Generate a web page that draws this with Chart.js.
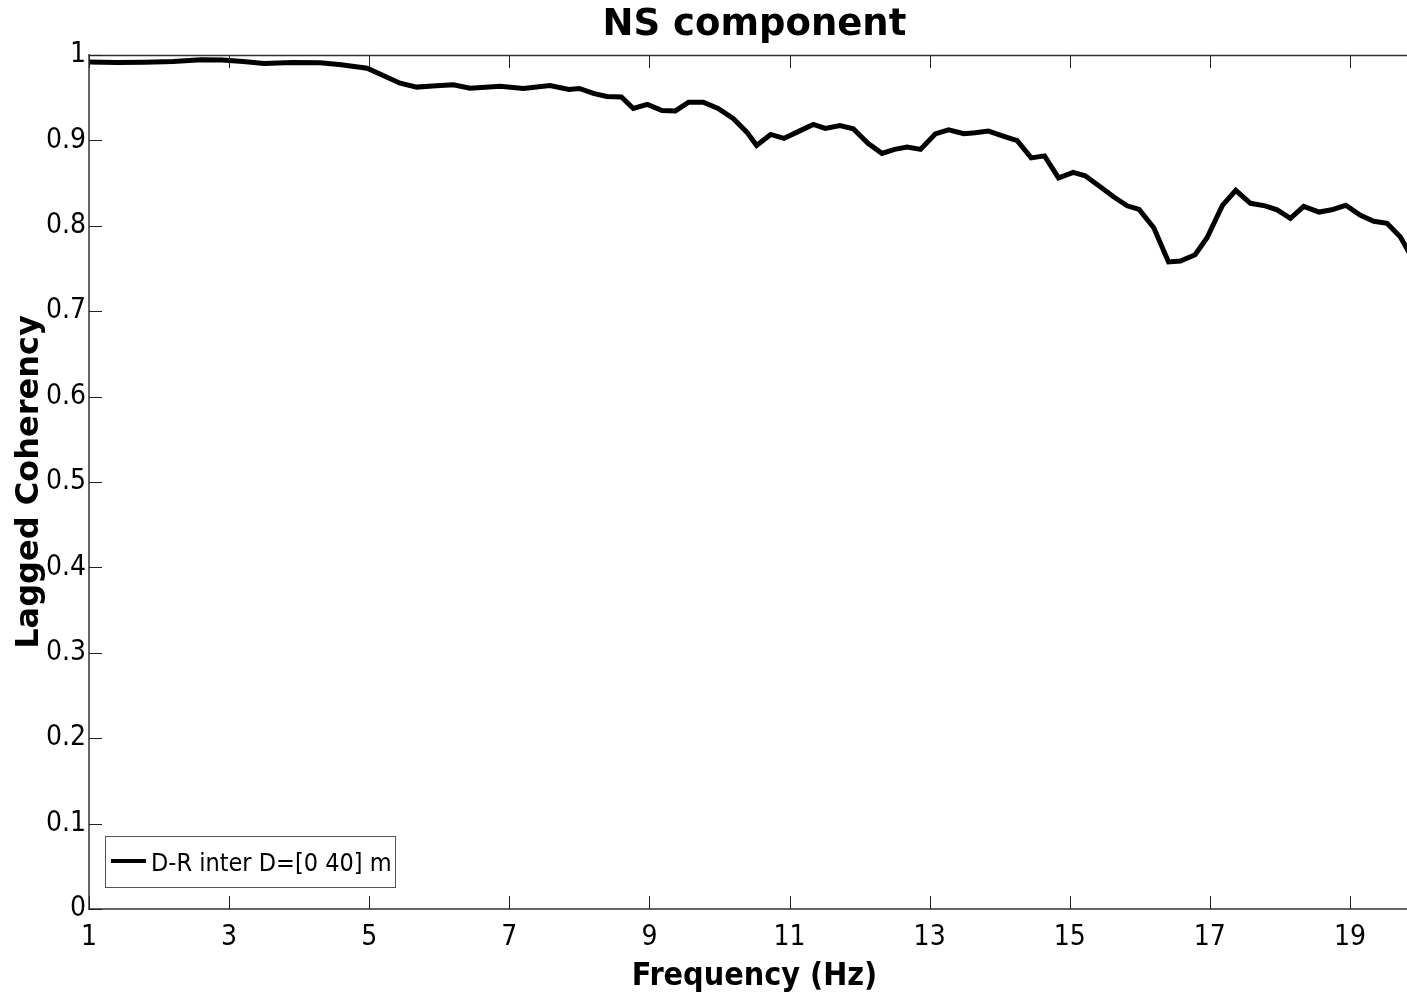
<!DOCTYPE html>
<html>
<head>
<meta charset="utf-8">
<script src="https://cdn.jsdelivr.net/npm/chart.js@4/dist/chart.umd.min.js"></script>
<style>
  html, body { margin: 0; padding: 0; background: #fff; overflow: hidden; }
  #wrap { width: 1425px; height: 1001px; }
</style>
</head>
<body>
<div id="wrap"><canvas id="c" width="1425" height="1001"></canvas></div>
<script>
const chartTitle = 'NS component';
const xAxisTitle = 'Frequency (Hz)';
const yAxisTitle = 'Lagged Coherency';
const seriesLabel = 'D-R inter D=[0 40] m';

const xTickValues = [1, 3, 5, 7, 9, 11, 13, 15, 17, 19];
const yTickValues = [0, 0.1, 0.2, 0.3, 0.4, 0.5, 0.6, 0.7, 0.8, 0.9, 1];

const freq = [
  1.0, 1.4, 1.8, 2.2, 2.6, 2.9, 3.2, 3.5, 3.9, 4.3, 4.6, 4.97, 5.2, 5.44, 5.68, 5.9,
  6.2, 6.44, 6.87, 7.2, 7.58, 7.85, 8.0, 8.2, 8.39, 8.6, 8.77, 8.97, 9.18, 9.37, 9.56,
  9.77, 9.98, 10.2, 10.39, 10.53, 10.73, 10.92, 11.1, 11.34, 11.51, 11.72, 11.91, 12.12,
  12.32, 12.5, 12.68, 12.87, 13.08, 13.27, 13.49, 13.65, 13.84, 14.06, 14.25, 14.45,
  14.64, 14.84, 15.05, 15.22, 15.44, 15.63, 15.82, 15.99, 16.2, 16.41, 16.58, 16.79,
  16.96, 17.18, 17.37, 17.58, 17.79, 17.96, 18.15, 18.34, 18.56, 18.74, 18.94, 19.15,
  19.34, 19.53, 19.72, 19.85
];
const coherency = [
  0.9918, 0.9912, 0.9916, 0.9924, 0.9944, 0.9942, 0.9924, 0.9901, 0.9912, 0.9909, 0.9885,
  0.9846, 0.976, 0.967, 0.9624, 0.9637, 0.9652, 0.9612, 0.9635, 0.9608, 0.9643, 0.9596,
  0.9608, 0.955, 0.9515, 0.9509, 0.9374, 0.9421, 0.935, 0.9345, 0.9448, 0.9448, 0.9374,
  0.9254, 0.9097, 0.8942, 0.907, 0.9023, 0.9094, 0.9187, 0.914, 0.9175, 0.9137, 0.8965,
  0.8848, 0.8895, 0.8922, 0.8895, 0.9076, 0.9123, 0.9078, 0.909, 0.9109, 0.9047, 0.8996,
  0.8795, 0.8819, 0.8561, 0.8626, 0.8585, 0.8454, 0.8337, 0.8234, 0.8193, 0.7977, 0.7577,
  0.7588, 0.7661, 0.786, 0.824, 0.8415, 0.8263, 0.8234, 0.8187, 0.8088, 0.8228, 0.8161,
  0.8187, 0.824, 0.8123, 0.8053, 0.8029, 0.7869, 0.7678
];

const narrow = '"Liberation Sans Narrow", "DejaVu Sans Condensed", "Liberation Sans", sans-serif';
const boldFace = '"DejaVu Sans", sans-serif';

const framePlugin = {
  id: 'frame',
  afterDatasetsDraw(chart) {
    const { ctx, chartArea: a, scales: { x, y } } = chart;
    const tl = 13;
    ctx.save();
    ctx.strokeStyle = '#333';
    ctx.lineWidth = 1.3;
    ctx.beginPath();
    ctx.moveTo(a.left, a.top + 0.5);
    ctx.lineTo(a.right, a.top + 0.5);
    ctx.moveTo(a.right - 0.5, a.top);
    ctx.lineTo(a.right - 0.5, a.bottom);
    ctx.stroke();
    ctx.lineWidth = 1;
    ctx.strokeStyle = '#222';
    ctx.beginPath();
    x.ticks.forEach(t => {
      const px = Math.round(x.getPixelForValue(t.value)) + 0.5;
      ctx.moveTo(px, a.bottom);
      ctx.lineTo(px, a.bottom - tl);
      ctx.moveTo(px, a.top);
      ctx.lineTo(px, a.top + tl);
    });
    y.ticks.forEach(t => {
      const py = Math.round(y.getPixelForValue(t.value)) + 0.5;
      ctx.moveTo(a.left, py);
      ctx.lineTo(a.left + tl, py);
      ctx.moveTo(a.right, py);
      ctx.lineTo(a.right - tl, py);
    });
    ctx.stroke();
    ctx.restore();
  },
  afterDraw(chart) {
    const { ctx, chartArea: a } = chart;
    const ds = chart.data.datasets[0];
    const bx = a.left + 16, by = a.bottom - 73, bw = 290, bh = 51;
    ctx.save();
    ctx.fillStyle = '#fff';
    ctx.fillRect(bx, by, bw, bh);
    ctx.strokeStyle = '#555';
    ctx.lineWidth = 1;
    ctx.strokeRect(bx + 0.5, by + 0.5, bw, bh);
    ctx.strokeStyle = ds.borderColor;
    ctx.lineWidth = 4;
    ctx.beginPath();
    ctx.moveTo(bx + 6, by + 25);
    ctx.lineTo(bx + 41, by + 25);
    ctx.stroke();
    ctx.fillStyle = '#000';
    ctx.font = '25px ' + narrow;
    ctx.textBaseline = 'middle';
    ctx.textAlign = 'left';
    ctx.fillText(ds.label, bx + 46, by + 28);
    ctx.restore();
  }
};

new Chart(document.getElementById('c'), {
  type: 'line',
  data: {
    datasets: [{
      label: seriesLabel,
      data: freq.map((f, i) => ({ x: f, y: coherency[i] })),
      borderColor: '#000',
      backgroundColor: '#000',
      borderWidth: 5,
      pointRadius: 0,
      tension: 0,
      fill: false
    }]
  },
  options: {
    responsive: false,
    animation: false,
    devicePixelRatio: 1,
    layout: { padding: { left: 0, right: 5, top: 0, bottom: 0 } },
    plugins: {
      legend: { display: false },
      tooltip: { enabled: false },
      title: {
        display: true,
        text: chartTitle,
        fullSize: false,
        color: '#000',
        font: { family: boldFace, size: 37, weight: 'bold', lineHeight: 1.2 },
        padding: { top: 3.6, bottom: 7 }
      }
    },
    scales: {
      x: {
        type: 'linear',
        min: 1,
        max: 20,
        afterBuildTicks: s => { s.ticks = xTickValues.map(v => ({ value: v })); },
        afterFit: s => { s.height = 92; },
        grid: { display: false, drawTicks: false },
        border: { display: true, color: '#666', width: 2 },
        ticks: {
          color: '#000',
          padding: 12,
          maxRotation: 0,
          autoSkip: false,
          font: { family: narrow, size: 28, lineHeight: 1.2 },
          callback: v => String(v)
        },
        title: {
          display: true,
          text: xAxisTitle,
          color: '#000',
          font: { family: narrow, size: 32, weight: 'bold', lineHeight: 1 },
          padding: { top: 0, bottom: 8 }
        }
      },
      y: {
        type: 'linear',
        min: 0,
        max: 1,
        afterBuildTicks: s => { s.ticks = yTickValues.map(v => ({ value: v })); },
        afterFit: s => { s.width = 89; },
        grid: { display: false, drawTicks: false },
        border: { display: true, color: '#666', width: 2 },
        ticks: {
          color: '#000',
          padding: 3,
          autoSkip: false,
          font: { family: narrow, size: 28, lineHeight: 1.2 },
          callback: v => String(Number(v.toFixed(1)))
        },
        title: {
          display: true,
          text: yAxisTitle,
          color: '#000',
          font: { family: boldFace, size: 32, weight: 'bold', lineHeight: 1.2 },
          padding: { top: 10.8, bottom: 0 }
        }
      }
    }
  },
  plugins: [framePlugin]
});
</script>
</body>
</html>
